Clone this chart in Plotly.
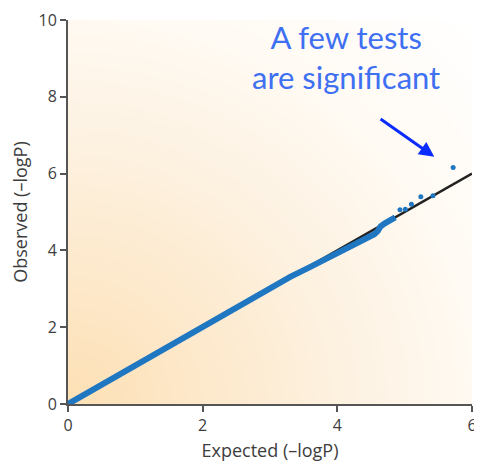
import numpy as np
import plotly.graph_objects as go

# Dense QQ band: expected vs observed -logP
exp_band = [0.0, 0.3, 0.6, 0.9, 1.2, 1.5, 1.8, 2.1, 2.4, 2.7, 3.0, 3.3, 3.6, 3.8,
            4.0, 4.2, 4.4, 4.55, 4.6, 4.64, 4.7, 4.78, 4.86]
obs_band = [0.0, 0.3, 0.6, 0.9, 1.19, 1.49, 1.79, 2.1, 2.42, 2.73, 3.03, 3.31, 3.57, 3.74,
            3.92, 4.1, 4.29, 4.42, 4.5, 4.62, 4.7, 4.78, 4.86]

# Sparse upper-tail points
exp_tail = [4.93, 5.01, 5.10, 5.24, 5.42, 5.72]
obs_tail = [5.06, 5.07, 5.20, 5.40, 5.42, 6.16]

# Null reference line
ref_x = [0, 6]
ref_y = [0, 6]

x_ticks = [0, 2, 4, 6]
y_ticks = [0, 2, 4, 6, 8, 10]

BLUE = "#1f77c2"

# background gradient grid (decorative)
gx = np.linspace(0, 6, 41)
gy = np.linspace(0, 10, 41)
GX, GY = np.meshgrid(gx, gy)
GZ = np.sqrt((GX / 6) ** 2 + (GY / 10) ** 2)

fig = go.Figure()
fig.add_trace(go.Heatmap(
    x=gx, y=gy, z=GZ, zmin=0, zmax=np.sqrt(2), zsmooth="best",
    colorscale=[[0, "#fde0b4"], [0.25, "#fde9cc"], [0.5, "#fdf2e2"], [0.72, "#fffaf3"], [1, "#ffffff"]],
    showscale=False, hoverinfo="skip"))

fig.add_trace(go.Scatter(x=ref_x, y=ref_y, mode="lines",
                         line=dict(color="#222222", width=2.5), hoverinfo="skip"))
fig.add_trace(go.Scatter(x=exp_band, y=obs_band, mode="lines",
                         line=dict(color=BLUE, width=6), cliponaxis=False))
fig.add_trace(go.Scatter(x=exp_tail, y=obs_tail, mode="markers",
                         marker=dict(color=BLUE, size=5), cliponaxis=False))

fig.add_annotation(x=4.13, y=9.0, xref="x", yref="y",
                   text="A few tests<br>are significant", showarrow=False,
                   font=dict(family="Lato", size=31, color="#4070f2"),
                   align="center", yshift=1)
fig.add_annotation(x=5.44, y=6.44, ax=4.62, ay=7.45, xref="x", yref="y",
                   axref="x", ayref="y", text="", showarrow=True,
                   arrowhead=2, arrowsize=1, arrowwidth=3, arrowcolor="#0a2cff")

axis_font = dict(family="Open Sans", size=16, color="#3d3d3d")
title_font = dict(family="Open Sans", size=18, color="#3d3d3d")
fig.update_xaxes(range=[0, 6], tickvals=x_ticks, showgrid=False, zeroline=False,
                 showline=True, linecolor="#555555", linewidth=2,
                 ticks="outside", ticklen=6, tickwidth=2, tickcolor="#555555",
                 tickfont=axis_font, automargin=False,
                 title=dict(text="Expected (–logP)", font=title_font, standoff=10))
fig.update_yaxes(range=[0, 10], tickvals=y_ticks, showgrid=False, zeroline=False,
                 showline=True, linecolor="#555555", linewidth=2,
                 ticks="outside", ticklen=6, tickwidth=2, tickcolor="#555555",
                 tickfont=axis_font, automargin=False,
                 title=dict(text="Observed (–logP)", font=title_font, standoff=10))

# page body adds an 8px margin, so the figure is sized to fit the 482x470 window
fig.update_layout(width=470, height=454, margin=dict(l=60, r=6, t=12, b=58),
                  paper_bgcolor="white", plot_bgcolor="white", showlegend=False)

fig.write_html("out.html")
